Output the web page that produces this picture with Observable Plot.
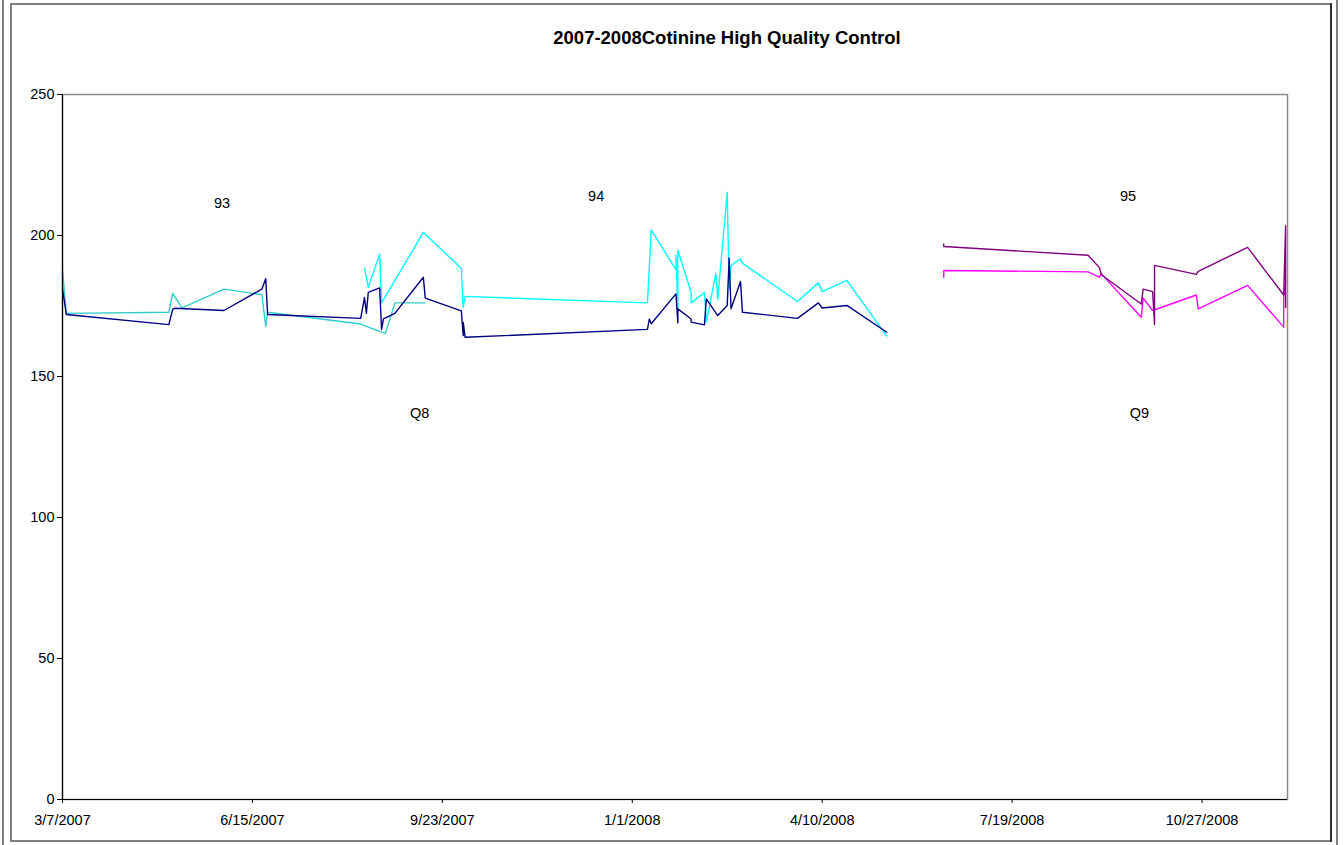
<!DOCTYPE html>
<html>
<head>
<meta charset="utf-8">
<script src="https://cdn.jsdelivr.net/npm/d3@7"></script>
<script src="https://cdn.jsdelivr.net/npm/@observablehq/plot@0.6"></script>
<style>
  body { margin: 0; background: #fff; font-family: "Liberation Sans", Arial, sans-serif; }
  #wrap { position: relative; width: 1343px; height: 845px; overflow: hidden; background: #fff; }
  .ln { position: absolute; background: #808080; }
  #title { position: absolute; left: 0; width: 1454px; top: 27px; text-align: center; font-weight: bold; font-size: 18.5px; color: #000; }
  #chart { position: absolute; left: 0; top: 0; }
</style>
</head>
<body>
<div id="wrap">
  <div id="chart"></div>
  <div class="ln" style="left:2px;top:0;width:2px;height:845px"></div>
  <div class="ln" style="left:10px;top:3px;width:1322px;height:2px"></div>
  <div class="ln" style="left:10px;top:3px;width:2px;height:839px"></div>
  <div class="ln" style="left:10px;top:840px;width:1322px;height:2px"></div>
  <div class="ln" style="left:1330px;top:3px;width:2px;height:839px;background:#303030"></div>
  <div class="ln" style="left:1336px;top:0;width:2px;height:845px"></div>
  <div id="title">2007-2008Cotinine High Quality Control</div>
</div>
<script>
// ---- data ----
const xTickLabels = ["3/7/2007","6/15/2007","9/23/2007","1/1/2008","4/10/2008","7/19/2008","10/27/2008"];
const yTicks = [0, 50, 100, 150, 200, 250];
const xDomainLabels = ["3/7/2007", "12/11/2008"];

// Q8, dark navy series
const navyDates = ["3/7/2007","3/9/2007","5/2/2007","5/4/2007","5/5/2007","5/31/2007","6/20/2007","6/22/2007","6/23/2007",
  "8/11/2007","8/13/2007","8/14/2007","8/15/2007","8/21/2007","8/22/2007","8/23/2007","8/29/2007","9/13/2007","9/14/2007",
  "10/3/2007","10/4/2007","10/4/2007","10/5/2007",
  "1/9/2008","1/10/2008","1/11/2008","1/24/2008","1/25/2008","1/25/2008","2/1/2008","2/1/2008","2/8/2008","2/9/2008",
  "2/15/2008","2/20/2008","2/21/2008","2/22/2008","2/27/2008","2/28/2008","3/28/2008","4/8/2008","4/10/2008","4/23/2008","5/14/2008"];
const navyValues = [181,172,168.4,173.8,174.2,173.4,181,184.7,172,
  170.6,178,172.4,179.8,181.4,166.7,170.4,172.4,185.2,177.8,
  173.3,164.5,169.2,163.9,
  166.7,170.4,168.7,179.3,169,174,170.4,169.3,168.3,177.5,
  171.6,175.2,192,174,183.7,172.8,170.6,176.1,174.3,175.2,165.7];

// Q8, turquoise series (lot 93)
const turqDates = ["3/7/2007","3/9/2007","5/2/2007","5/4/2007","5/9/2007","5/31/2007","6/20/2007","6/22/2007","6/23/2007",
  "8/11/2007","8/24/2007","8/29/2007","9/14/2007"];
const turqValues = [187.8,172.4,172.8,179.5,174.3,181,179,167.7,172.8,168.6,165.2,176.1,176.1];

// Q8, bright cyan series (lot 94)
const cyanDates = ["8/13/2007","8/15/2007","8/21/2007","8/22/2007","9/13/2007","10/3/2007","10/4/2007","10/5/2007",
  "1/9/2008","1/11/2008","1/24/2008","1/24/2008","1/25/2008","1/25/2008","2/1/2008","2/1/2008","2/8/2008","2/9/2008",
  "2/14/2008","2/15/2008","2/20/2008","2/21/2008","2/22/2008","2/27/2008","2/28/2008","3/28/2008","4/8/2008","4/10/2008","4/23/2008","5/14/2008"];
const cyanValues = [188.4,181.6,193.4,176.1,201.1,188.4,174.5,178.4,
  176.1,202,187.8,193,174,194.7,179.8,176.1,179.8,169.2,
  186.6,177.5,215.3,181.3,189.4,191.7,190.2,176.6,183.2,180.1,184.1,164.3];

// Q9, purple series (lot 95)
const purpleDates = ["6/13/2008","6/13/2008","8/28/2008","9/3/2008","9/4/2008","9/25/2008","9/26/2008","10/1/2008","10/2/2008","10/2/2008",
  "10/24/2008","10/25/2008","11/20/2008","12/9/2008","12/10/2008","12/10/2008","12/10/2008"];
const purpleValues = [197,196.1,193,188.6,186.1,175.7,181,180.1,168.4,189.4,186.2,187.3,195.8,178.9,203.5,174.5,194.7];

// Q9, magenta series (lot 95)
const magentaDates = ["6/13/2008","6/13/2008","8/28/2008","9/3/2008","9/4/2008","9/25/2008","9/26/2008","10/1/2008",
  "10/24/2008","10/25/2008","11/20/2008","12/9/2008","12/9/2008","12/10/2008"];
const magentaValues = [185.2,187.6,187.1,185.2,186.4,171,177.8,173.4,178.9,174,182.3,167.5,177.5,184];

// Annotations
const noteTexts = ["93","94","95","Q8","Q9"];
const noteDates = ["5/30/2007","12/13/2007","9/18/2008","9/11/2007","9/24/2008"];
const noteValues = [211.3,213.8,213.8,136.9,136.9];

// ---- build ----
const parse = s => { const [m, d, y] = s.split("/").map(Number); return new Date(Date.UTC(y, m - 1, d)); };
const rows = (dates, values, series) => dates.map((d, i) => ({date: parse(d), value: values[i], series}));
const seriesDefs = [
  {key: "turq", dates: turqDates, values: turqValues, color: "#33CCCC"},
  {key: "cyan", dates: cyanDates, values: cyanValues, color: "#00FFFF"},
  {key: "navy", dates: navyDates, values: navyValues, color: "#000080"},
  {key: "magenta", dates: magentaDates, values: magentaValues, color: "#FF00FF"},
  {key: "purple", dates: purpleDates, values: purpleValues, color: "#800080"}
];
const notes = noteTexts.map((t, i) => ({text: t, date: parse(noteDates[i]), value: noteValues[i]}));
const xTicks = xTickLabels.map(parse);
const fmt = d => `${d.getUTCMonth() + 1}/${d.getUTCDate()}/${d.getUTCFullYear()}`;

const chart = Plot.plot({
  width: 1343,
  height: 845,
  marginLeft: 62,
  marginRight: 56,
  marginTop: 94,
  marginBottom: 46,
  style: {fontFamily: "'Liberation Sans', Arial, sans-serif", fontSize: "14.5px", background: "transparent", color: "#000"},
  x: {type: "utc", domain: xDomainLabels.map(parse), ticks: xTicks, tickFormat: fmt, tickSize: 4, tickPadding: 11, label: null},
  y: {domain: [0, 250], ticks: yTicks, tickSize: 5, tickPadding: 3, label: null},
  marks: [
    Plot.frame({stroke: "#8c8c8c", strokeWidth: 1.5}),
    ...seriesDefs.map(s => Plot.line(rows(s.dates, s.values, s.key), {x: "date", y: "value", stroke: s.color, strokeWidth: 1.4})),
    Plot.text(notes, {x: "date", y: "value", text: "text", fontSize: 14.5, fill: "#000"}),
    Plot.ruleY([0], {stroke: "#000", strokeWidth: 1.2}),
    Plot.ruleX([parse(xDomainLabels[0])], {stroke: "#000", strokeWidth: 1.2}),
    Plot.axisX({ticks: xTicks, tickFormat: fmt, tickSize: 4, tickPadding: 11, fontSize: 14.5}),
    Plot.axisY({ticks: yTicks, tickSize: 5, tickPadding: 3, fontSize: 14.5})
  ]
});
document.getElementById("chart").appendChild(chart);
</script>
</body>
</html>
